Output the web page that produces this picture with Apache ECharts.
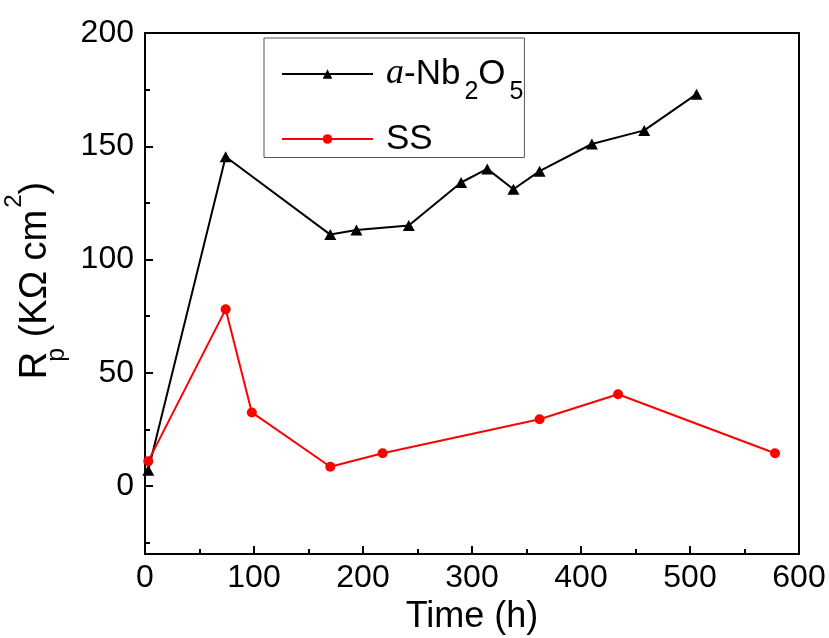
<!DOCTYPE html>
<html><head><meta charset="utf-8">
<script src="https://cdn.jsdelivr.net/npm/echarts@6/dist/echarts.min.js"></script>
<style>html,body{margin:0;padding:0;background:#fff}#c{width:829px;height:638px}</style>
</head><body><div id="c"></div>
<script>
const timeNb = [3, 74, 170, 194, 242, 290, 314, 338, 362, 410, 458, 506];
const rpNb   = [7, 145.4, 111, 113, 115, 134, 140, 131, 139, 151, 157, 173];
const timeSS = [3, 74, 98, 170, 218, 362, 434, 578];
const rpSS   = [11, 78, 32.5, 8.5, 14.5, 29.5, 40.5, 14.5];
const yMajorTicks = [0, 50, 100, 150, 200];
const yMinorTicks = [-25, 25, 75, 125, 175];

const F = 'Liberation Sans, Arial, sans-serif';
const chart = echarts.init(document.getElementById('c'), null, {renderer: 'canvas'});
const nbData = timeNb.map((t, i) => [t, rpNb[i]]);
const ssData = timeSS.map((t, i) => [t, rpSS[i]]);

chart.setOption({
  animation: false,
  backgroundColor: '#fff',
  grid: {left: 145, right: 30, top: 33, bottom: 84, containLabel: false, outerBoundsMode: 'none',
    show: true, borderColor: '#000', borderWidth: 2, backgroundColor: 'transparent'},
  legend: {
    orient: 'vertical', left: 264, top: 38,
    padding: [18, 1, 1, 17],
    itemGap: 17, itemWidth: 91, itemHeight: 12,
    borderColor: '#555', borderWidth: 1,
    textStyle: {fontFamily: F, fontSize: 35, color: '#000', padding: [0, 0, 0, 8],
      rich: {
        m: {fontFamily: F, fontSize: 35, lineHeight: 40, color: '#000'},
        i: {fontFamily: 'Liberation Serif, serif', fontStyle: 'italic', fontSize: 36, lineHeight: 40, color: '#000'},
        s: {fontFamily: F, fontSize: 25, color: '#000', padding: [18, 0, -18, 4]}
      }},
    formatter: function (n) {
      if (n === 'Nb') return '{i|a}{m|-Nb}{s|2}{m|O}{s|5}';
      return '{m|' + n + '}';
    },
    data: ['Nb', 'SS']
  },
  xAxis: {
    type: 'value', min: 0, max: 600, interval: 100,
    name: 'Time (h)', nameLocation: 'middle', nameGap: 25,
    nameTextStyle: {fontFamily: F, fontSize: 36, color: '#000'},
    axisLine: {show: true, onZero: false, lineStyle: {color: '#000', width: 2}},
    axisTick: {show: true, inside: true, length: 8, lineStyle: {color: '#000', width: 2}},
    minorTick: {show: true, splitNumber: 2, length: 5, lineStyle: {color: '#000', width: 2}},
    axisLabel: {fontFamily: F, fontSize: 32, color: '#000', margin: 8},
    splitLine: {show: false}
  },
  yAxis: [{
    type: 'value', min: -30, max: 200, position: 'left',
    name: 'R{sb|p} (KΩ cm{sp|2})', nameLocation: 'middle', nameGap: 86,
    nameTextStyle: {fontFamily: F, fontSize: 38, color: '#000', padding: [0, 0, 0, 26],
      rich: {
        sb: {fontFamily: F, fontSize: 25, color: '#000', padding: [22, 0, -22, -10]},
        sp: {fontFamily: F, fontSize: 24, color: '#000', padding: [-21, 0, 21, 2]}
      }},
    axisLine: {show: true, onZero: false, lineStyle: {color: '#000', width: 2}},
    axisTick: {show: true, inside: true, length: 8, customValues: yMajorTicks, lineStyle: {color: '#000', width: 2}},
    axisLabel: {fontFamily: F, fontSize: 32, color: '#000', margin: 11, customValues: yMajorTicks},
    splitLine: {show: false}
  }, {
    type: 'value', min: -30, max: 200, position: 'left',
    axisLine: {show: false},
    axisTick: {show: true, inside: true, length: 5, customValues: yMinorTicks, lineStyle: {color: '#000', width: 2}},
    axisLabel: {show: false},
    splitLine: {show: false}
  }],
  series: [{
    name: 'Nb', type: 'line', data: nbData, yAxisIndex: 0,
    symbol: 'triangle', symbolSize: [12, 11],
    lineStyle: {color: '#000', width: 2}, itemStyle: {color: '#000'}, z: 2
  }, {
    name: 'SS', type: 'line', data: ssData, yAxisIndex: 0,
    symbol: 'circle', symbolSize: 10,
    lineStyle: {color: '#ff0000', width: 2}, itemStyle: {color: '#ff0000'}, z: 3
  }]
});
</script></body></html>
